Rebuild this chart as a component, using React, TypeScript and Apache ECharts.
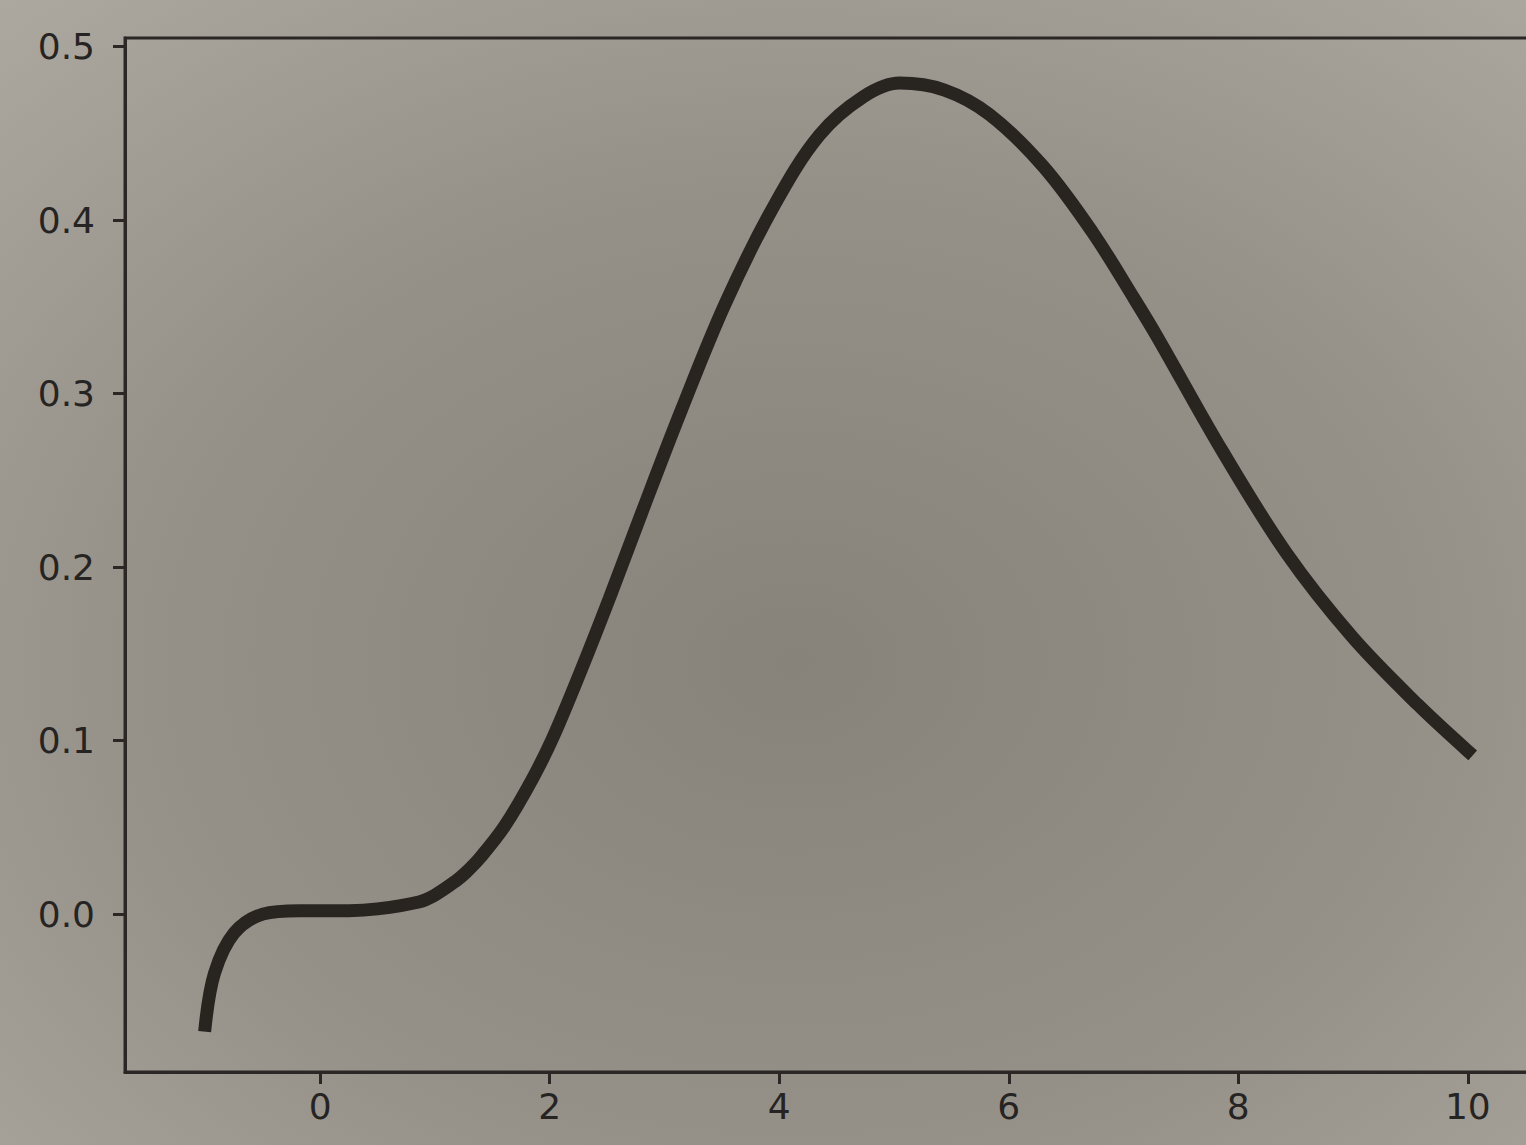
import React, { useEffect, useRef } from "react";
import * as echarts from "echarts";

const xValues = [
  -1.0, -0.92, -0.75, -0.5, -0.18, 0.25, 0.5, 0.86, 1.0, 1.18, 1.27, 1.4, 1.61, 1.85,
  2.03, 2.27, 2.52, 2.8, 3.15, 3.53, 3.96, 4.35, 4.73, 5.05, 5.44, 5.83, 6.3,
  6.73, 7.1, 7.3, 7.86, 8.42, 8.99, 9.56, 10.0,
];
const yValues = [
  -0.064, -0.034, -0.011, 0.0, 0.002, 0.002, 0.003, 0.007, 0.011, 0.019, 0.024, 0.033,
  0.051, 0.078, 0.102, 0.14, 0.182, 0.231, 0.291, 0.352, 0.409, 0.449, 0.471, 0.479,
  0.475, 0.461, 0.431, 0.393, 0.354, 0.332, 0.267, 0.208, 0.16, 0.121, 0.094,
];
const xTicks = [0, 2, 4, 6, 8, 10];
const yTicks = [0.0, 0.1, 0.2, 0.3, 0.4, 0.5];

export default function App() {
  const ref = useRef<HTMLDivElement>(null);
  useEffect(() => {
    if (!ref.current) return;
    const chart = echarts.init(ref.current, null, { renderer: "svg" });
    const data = xValues.map((x, i) => [x, yValues[i]]);
    const textColor = "#262422";
    const lineColor = "#2a2724";
    chart.setOption({
      animation: false,
      backgroundColor: "#a39f96",
      graphic: [
        {
          type: "rect",
          z: -10,
          silent: true,
          shape: { x: 0, y: 0, width: 1526, height: 1145 },
          style: {
            fill: new echarts.graphic.RadialGradient(0.52, 0.58, 0.85, [
              { offset: 0, color: "#88837a" },
              { offset: 0.5, color: "#969188" },
              { offset: 1, color: "#b1ada4" },
            ]),
          },
        },
      ],
      grid: {
        left: 125,
        top: 38,
        width: 1406,
        height: 1034,
        containLabel: false,
        outerBoundsMode: "none",
        show: true,
        borderWidth: 3,
        borderColor: lineColor,
        backgroundColor: "transparent",
      },
      xAxis: {
        type: "value",
        min: -1.7,
        max: 10.55,
        axisLine: { show: true, onZero: false, lineStyle: { color: lineColor, width: 3 } },
        splitLine: { show: false },
        axisTick: {
          show: true,
          length: 12,
          lineStyle: { color: lineColor, width: 3 },
          customValues: xTicks,
        },
        axisLabel: {
          customValues: xTicks,
          margin: 16,
          fontSize: 36,
          fontFamily: "DejaVu Sans",
          color: textColor,
          formatter: (v: number) => String(v),
        },
      },
      yAxis: {
        type: "value",
        min: -0.091,
        max: 0.505,
        axisLine: { show: true, onZero: false, lineStyle: { color: lineColor, width: 3 } },
        splitLine: { show: false },
        axisTick: {
          show: true,
          length: 12,
          lineStyle: { color: lineColor, width: 3 },
          customValues: yTicks,
        },
        axisLabel: {
          customValues: yTicks,
          margin: 30,
          fontSize: 36,
          fontFamily: "DejaVu Sans",
          color: textColor,
          formatter: (v: number) => v.toFixed(1),
        },
      },
      series: [
        {
          type: "line",
          data,
          showSymbol: false,
          smooth: 0.35,
          lineStyle: { color: "#282420", width: 13, cap: "square" },
          clip: true,
        },
      ],
    });
    return () => chart.dispose();
  }, []);
  return (
    <div
      ref={ref}
      style={{ position: "fixed", left: 0, top: 0, width: 1526, height: 1145 }}
    />
  );
}
